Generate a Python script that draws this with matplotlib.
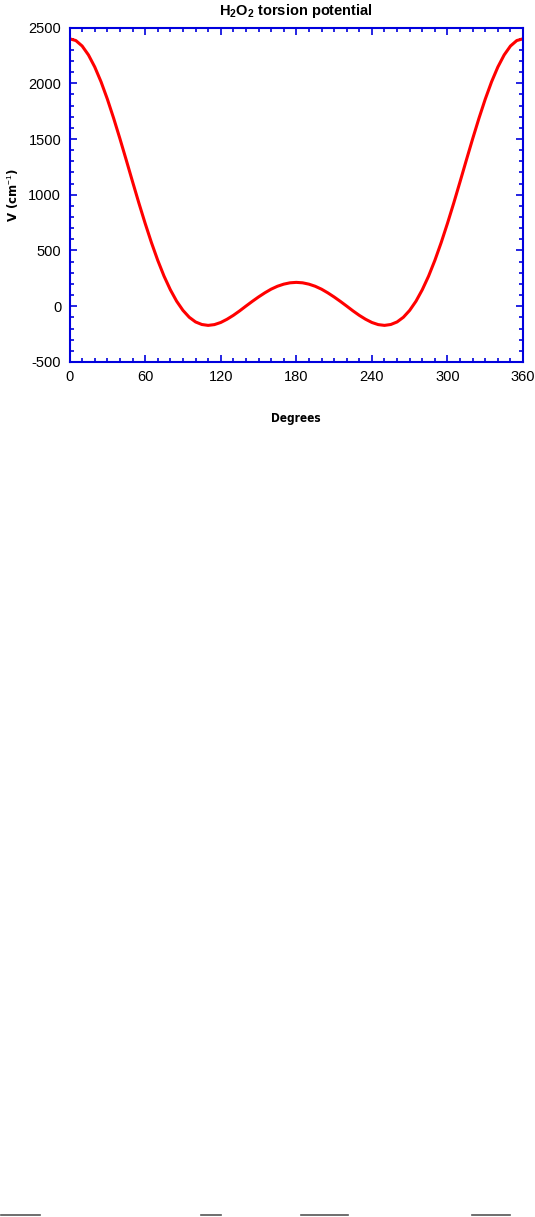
import numpy as np
import matplotlib
matplotlib.use('Agg')
from matplotlib import pyplot as plt
from matplotlib.lines import Line2D
from matplotlib.ticker import MultipleLocator

# torsion angle (deg) and potential (cm^-1), every 5 deg
angle = list(range(0, 365, 5))
half = [2400, 2384, 2335, 2255, 2147, 2014, 1859, 1687, 1503, 1312,
        1118, 927, 744, 571, 412, 270, 148, 45, -37, -99,
        -141, -164, -172, -165, -146, -117, -82, -42, 1, 43,
        83, 120, 153, 179, 198, 210, 214]
potential = half + half[-2::-1]

xticks = [0, 60, 120, 180, 240, 300, 360]
yticks = [-500, 0, 500, 1000, 1500, 2000, 2500]

plt.rcParams['font.family'] = ['Liberation Sans', 'DejaVu Sans']
plt.rcParams['axes.unicode_minus'] = False
plt.rcParams['mathtext.fontset'] = 'custom'
plt.rcParams['mathtext.rm'] = 'Liberation Sans'
plt.rcParams['mathtext.bf'] = 'Liberation Sans:bold'

fig = plt.figure(figsize=(5.35, 12.17), dpi=100)
ax = fig.add_axes([0.130, 0.7026, 0.8477, 0.2747])

ax.plot(angle, potential, color='red', lw=2.2)

ax.set_xlim(0, 360)
ax.set_ylim(-500, 2500)
ax.set_xticks(xticks)
ax.set_yticks(yticks)
ax.xaxis.set_minor_locator(MultipleLocator(10))
ax.yaxis.set_minor_locator(MultipleLocator(100))

blue = '#0000DD'
for s in ax.spines.values():
    s.set_color(blue)
    s.set_linewidth(1.5)
ax.tick_params(which='both', direction='in', top=True, right=True,
               color=blue, width=1.2, labelsize=10.5, labelcolor='black')
ax.tick_params(which='major', length=5, pad=6)
ax.tick_params(which='minor', length=3)

ax.set_title(r'$\mathbf{H_2O_2}$ torsion potential', fontsize=10.5,
             fontweight='bold', pad=9)
ax.set_xlabel('Degrees', family='DejaVu Sans', fontweight='heavy',
              fontstretch='condensed', fontsize=8.5)
ax.xaxis.set_label_coords(0.5, -0.15)
ax.set_ylabel(r'V (cm$^{-1}$)', family='DejaVu Sans', fontweight='heavy',
              fontsize=8.5)
ax.yaxis.set_label_coords(-0.108, 0.5)

# short rules at the page bottom
for x0, x1 in [(1, 40), (201, 221), (301, 348), (472, 510)]:
    fig.add_artist(Line2D([x0 / 535, x1 / 535], [2 / 1217, 2 / 1217],
                          color='#555555', lw=1.2))

fig.savefig('out.png', dpi=100)
